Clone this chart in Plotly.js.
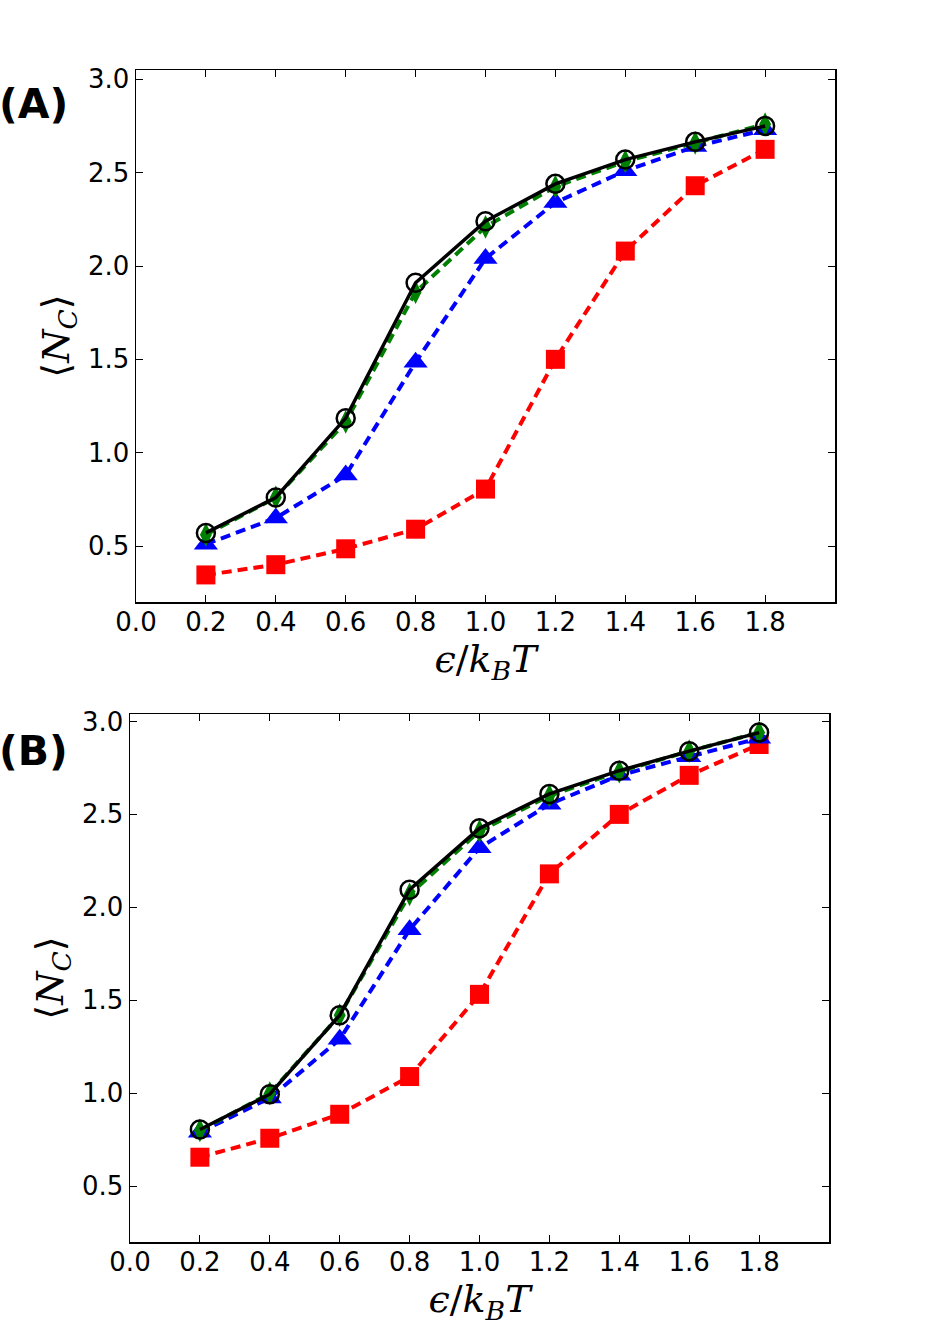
<!DOCTYPE html>
<html>
<head>
<meta charset="utf-8">
<script src="https://cdn.plot.ly/plotly-3.0.1.min.js"></script>
<style>html,body{margin:0;padding:0;background:#fff;}#chart{width:925px;height:1327px;}</style>
</head>
<body>
<div id="chart"></div>
<script>
// ---- data ----
const epsilon = [0.2, 0.4, 0.6, 0.8, 1.0, 1.2, 1.4, 1.6, 1.8];

const A_black = [0.57, 0.76, 1.185, 1.91, 2.24, 2.44, 2.57, 2.665, 2.75];
const A_green = [0.56, 0.76, 1.165, 1.86, 2.21, 2.425, 2.56, 2.66, 2.76];
const A_blue  = [0.51, 0.65, 0.88, 1.485, 2.04, 2.34, 2.51, 2.64, 2.73];
const A_red   = [0.345, 0.40, 0.485, 0.59, 0.805, 1.50, 2.08, 2.43, 2.625];

const B_black = [0.805, 0.995, 1.42, 2.095, 2.425, 2.61, 2.735, 2.84, 2.94];
const B_green = [0.80, 1.00, 1.42, 2.07, 2.41, 2.60, 2.73, 2.84, 2.94];
const B_blue  = [0.79, 0.975, 1.29, 1.88, 2.32, 2.555, 2.71, 2.81, 2.91];
const B_red   = [0.656, 0.758, 0.887, 1.09, 1.532, 2.18, 2.50, 2.71, 2.876];

const xTickVals = [0.0, 0.2, 0.4, 0.6, 0.8, 1.0, 1.2, 1.4, 1.6, 1.8];
const xTickText = ["0.0","0.2","0.4","0.6","0.8","1.0","1.2","1.4","1.6","1.8"];
const yTickVals = [0.5, 1.0, 1.5, 2.0, 2.5, 3.0];
const yTickText = ["0.5","1.0","1.5","2.0","2.5","3.0"];
const panelLabels = ["(A)", "(B)"];
const xTitle = "<i>ϵ</i>/<i>k</i><sub><i>B</i></sub><i>T</i>";
const yTitle = "⟨<i>N</i><sub><i>C</i></sub>⟩";

// ---- figure ----
const W = 925, H = 1327;
function px(x){ return x / W; }
function py(y){ return 1 - y / H; }

function series(xa, ya, y, color, symbol, size, dash, width, markerLine){
  return {
    x: epsilon, y: y, xaxis: xa, yaxis: ya, type: 'scatter', mode: 'lines+markers',
    line: {color: color, width: width, dash: dash},
    marker: {symbol: symbol, size: size, color: color, line: markerLine || {width: 0}},
    showlegend: false, hoverinfo: 'skip'
  };
}
function panelTraces(xa, ya, red, blue, green, black){
  return [
    series(xa, ya, red, '#ff0000', 'square', 19, '10px,6px', 4),
    series(xa, ya, blue, '#0000ff', 'triangle-up', 21, '10px,6px', 4),
    series(xa, ya, green, '#008000', 'diamond-tall', 17, '10px,6px', 4),
    series(xa, ya, black, '#000000', 'circle-open', 18, 'solid', 3.5, {width: 2.5, color: '#000000'})
  ];
}

const data = [].concat(
  panelTraces('x', 'y', A_red, A_blue, A_green, A_black),
  panelTraces('x2', 'y2', B_red, B_blue, B_green, B_black)
);

const tickFont = {family: 'DejaVu Sans', size: 26, color: '#000'};
const titleFont = {family: 'DejaVu Serif', size: 38, color: '#000'};

function xAxis(domain, anchor){
  return {
    domain: domain, anchor: anchor, range: [0, 2.0], autorange: false,
    tickvals: xTickVals, ticktext: xTickText, tickfont: tickFont,
    ticks: 'inside', ticklen: 7, tickwidth: 1, tickcolor: '#000',
    ticklabelstandoff: -4,
    showline: true, linecolor: '#000', linewidth: 1.5, mirror: 'ticks',
    showgrid: false, zeroline: false, automargin: false,
    title: {text: xTitle, font: titleFont, standoff: 0}
  };
}
function yAxis(domain, anchor){
  return {
    domain: domain, anchor: anchor, range: [0.2, 3.05], autorange: false,
    tickvals: yTickVals, ticktext: yTickText, tickfont: tickFont,
    ticks: 'inside', ticklen: 7, tickwidth: 1, tickcolor: '#000',
    showline: true, linecolor: '#000', linewidth: 1.5, mirror: 'ticks',
    showgrid: false, zeroline: false, automargin: false,
    title: {text: yTitle, font: titleFont, standoff: 6}
  };
}

const layout = {
  width: W, height: H,
  margin: {l: 0, r: 0, t: 0, b: 0},
  paper_bgcolor: '#fff', plot_bgcolor: '#fff',
  showlegend: false,
  xaxis: xAxis([px(136), px(835)], 'y'),
  yaxis: yAxis([py(602), py(70)], 'x'),
  xaxis2: xAxis([px(130), px(829)], 'y2'),
  yaxis2: Object.assign(yAxis([py(1242), py(714)], 'x2'), {range: [0.2, 3.04]}),
  annotations: [
    {text: '<b>' + panelLabels[0] + '</b>', xref: 'paper', yref: 'paper', x: px(-3), y: py(104),
     xanchor: 'left', yanchor: 'middle', showarrow: false,
     font: {family: 'DejaVu Sans', size: 41, color: '#000'}},
    {text: '<b>' + panelLabels[1] + '</b>', xref: 'paper', yref: 'paper', x: px(-3), y: py(751),
     xanchor: 'left', yanchor: 'middle', showarrow: false,
     font: {family: 'DejaVu Sans', size: 41, color: '#000'}}
  ]
};

Plotly.newPlot('chart', data, layout, {staticPlot: true, displayModeBar: false});
</script>
</body>
</html>
